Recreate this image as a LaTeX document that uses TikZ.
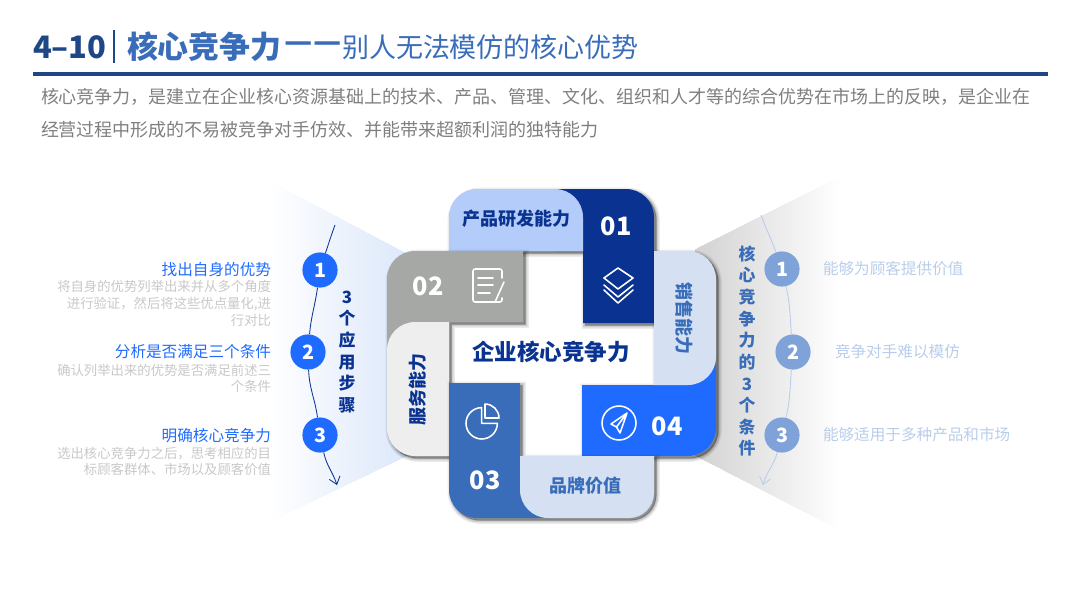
\documentclass[tikz,border=0pt]{standalone}
\usepackage{fontspec}
\setmainfont{Noto Sans CJK SC}
\usetikzlibrary{arrows.meta,positioning,calc}
\definecolor{CoreNavy}{HTML}{0A3391}
\definecolor{CoreHead}{HTML}{1F4785}
\definecolor{CoreBlue}{HTML}{3A6DB9}
\definecolor{CoreBright}{HTML}{1F6BFF}
\definecolor{CoreSky}{HTML}{B4CCFA}
\definecolor{CorePale}{HTML}{D5E1F2}
\definecolor{CoreGray}{HTML}{A6A8A6}
\definecolor{CoreMist}{HTML}{EEEEEE}
\definecolor{CoreSoft}{HTML}{7FA3D8}
\definecolor{CoreFaint}{HTML}{B9CDEB}
\definecolor{FanBlue}{HTML}{DBE7FA}
\definecolor{FanGray}{HTML}{D2D2D2}
\definecolor{TextGray}{HTML}{7F7F7F}
\definecolor{NoteGray}{HTML}{C8C8C8}
\tikzset{
  txt/.style={inner sep=0pt, outer sep=0pt},
  blockcast/.style={
    preaction={fill=black,draw=black,opacity=.08,line width=5pt,transform canvas={xshift=1.6pt,yshift=-1.6pt}},
    preaction={fill=black,draw=black,opacity=.12,line width=3pt,transform canvas={xshift=1.6pt,yshift=-1.6pt}},
    preaction={fill=black,draw=black,opacity=.16,line width=1pt,transform canvas={xshift=1.6pt,yshift=-1.6pt}}},
  blocknum/.style={txt, text=white, font=\fontsize{18}{20}\selectfont\bfseries},
  blockname/.style={txt, font=\fontsize{12.8}{15}\selectfont\bfseries},
  stepdot/.style={circle, minimum size=25pt, inner sep=0pt, text=white, font=\fontsize{14}{16}\selectfont\bfseries},
  steptitle/.style={txt, anchor=east, text=CoreBright, font=\fontsize{11.1}{13}\selectfont},
  stepnote/.style={txt, anchor=east, align=right, text=NoteGray, font=\fontsize{9.5}{11.9}\selectfont},
  condnote/.style={txt, anchor=west, text=CoreFaint, font=\fontsize{11.1}{13}\selectfont},
  sidehead/.style={txt, align=center, font=\fontsize{12}{15.4}\selectfont\bfseries},
  iconline/.style={draw=white, line width=1.1pt, line join=round, line cap=round},
}
\begin{document}
\begin{tikzpicture}[x=0.025cm,y=-0.025cm]
    \useasboundingbox (0,0) rectangle (1080,608);
    % header
    \node[txt,anchor=west,text=CoreHead,font=\fontsize{22}{24}\selectfont\bfseries] (num) at (33,47) {4–10};
    \draw[CoreHead,line width=2pt] (114,30) -- (114,63);
    \node[txt,anchor=west,text=CoreBlue,font=\fontsize{22}{24}\selectfont\bfseries] (title) at (127,47) {核心竞争力};
    \node[txt,anchor=west,text=CoreBlue,font=\fontsize{22}{24}\selectfont\bfseries] (dashes) at (284,47) {—\hspace{1pt}—};
    \node[txt,anchor=west,text=CoreBlue,font=\fontsize{19.2}{21}\selectfont] (subtitle) at (342,47) {别人无法模仿的核心优势};
    \draw[CoreHead,line width=2.5pt] (33,74) -- (1048,74);
    \node[txt,anchor=west,text=TextGray,font=\fontsize{12.8}{15}\selectfont] (introa) at (41,97) {核心竞争力，是建立在企业核心资源基础上的技术、产品、管理、文化、组织和人才等的综合优势在市场上的反映，是企业在};
    \node[txt,anchor=west,text=TextGray,font=\fontsize{12.8}{15}\selectfont] (introb) at (41,130) {经营过程中形成的不易被竞争对手仿效、并能带来超额利润的独特能力};
    % fans
    \foreach \k in {0,...,72}{
      \pgfmathsetmacro{\fx}{267+2*\k}
      \pgfmathsetmacro{\ftop}{180+(\fx-267)*77/145}
      \pgfmathsetmacro{\fbot}{523-(\fx-267)*70/145}
      \pgfmathsetmacro{\fmix}{100*\k/72}
      \fill[FanBlue!\fmix!white] (\fx,\ftop) -- (412,257) -- (412,453) -- (\fx,\fbot) -- cycle;
    }
    \foreach \k in {0,...,72}{
      \pgfmathsetmacro{\fx}{840-2*\k}
      \pgfmathsetmacro{\ftop}{177+(840-\fx)*73/145}
      \pgfmathsetmacro{\fbot}{530-(840-\fx)*75/145}
      \pgfmathsetmacro{\fmix}{100*\k/72}
      \fill[FanGray!\fmix!white] (\fx,\ftop) -- (695,250) -- (695,455) -- (\fx,\fbot) -- cycle;
    }
    % blocks
    \path[blockcast,rounded corners=20pt] (583,251) [sharp corners] -- (449,251) [rounded corners=20pt] -- (449,189) -- (654,189) [sharp corners] -- (654,323) -- (583,323) -- cycle;
    \fill[CoreNavy,rounded corners=20pt] (555,189) -- (654,189) [sharp corners] -- (654,323) -- (583,323) -- (583,251) -- (555,251) -- cycle;
    \fill[CoreSky,sharp corners] (449,251) [rounded corners=20pt] -- (449,189) -- (583,189) [sharp corners] -- (583,251) -- cycle;
    \path[blockcast,sharp corners] (654,251) [rounded corners=20pt] -- (716,251) -- (716,456) [sharp corners] -- (582,456) -- (582,385) -- (654,385) -- cycle;
    \fill[CoreBright,rounded corners=20pt] (654,340) -- (716,340) -- (716,456) [sharp corners] -- (582,456) -- (582,385) -- (654,385) -- cycle;
    \fill[CorePale,rounded corners=20pt] (654,251) -- (716,251) -- (716,385) [sharp corners] -- (654,385) -- cycle;
    \path[blockcast,sharp corners] (523,251) -- (523,322) -- (449,322) -- (449,456) [rounded corners=20pt] -- (387,456) -- (387,251) [sharp corners] -- cycle;
    \fill[CoreGray,sharp corners] (523,251) -- (523,322) -- (449,322) -- (449,350) -- (387,350) [rounded corners=20pt] -- (387,251) [sharp corners] -- cycle;
    \fill[CoreMist,sharp corners] (449,322) -- (449,456) [rounded corners=20pt] -- (387,456) -- (387,322) [sharp corners] -- cycle;
    \path[blockcast,sharp corners] (449,383) -- (520,383) -- (520,456) -- (654,456) [rounded corners=18pt] -- (654,518) [rounded corners=20pt] -- (449,518) [sharp corners] -- cycle;
    \fill[CoreBlue,sharp corners] (449,383) -- (520,383) -- (520,470) -- (560,518) [rounded corners=20pt] -- (449,518) [sharp corners] -- cycle;
    \fill[CorePale,sharp corners] (520,456) -- (654,456) [rounded corners=18pt] -- (654,518) [rounded corners=20pt] -- (520,518) [sharp corners] -- cycle;
    % block texts
    \node[blockname,text=CoreNavy] (prod) at (516,219) {产品研发能力};
    \node[blockname,text=CoreBlue,rotate=-90] (sale) at (684,318) {销售能力};
    \node[blockname,text=CoreBlue] (brand) at (585,486) {品牌价值};
    \node[blockname,text=CoreNavy,rotate=90] (serv) at (418,389) {服务能力};
    \node[blocknum] (n1) at (616,226) {01};
    \node[blocknum] (n2) at (428,286) {02};
    \node[blocknum] (n3) at (485,480) {03};
    \node[blocknum] (n4) at (667,426) {04};
    \node[txt,text=CoreNavy,font=\fontsize{16}{18}\selectfont\bfseries] (core) at (551,352) {企业核心竞争力};
    % icons
    \draw[iconline] (618,268) -- (633,278) -- (618,289) -- (604,278) -- cycle;
    \draw[iconline] (604,285) -- (618,297) -- (633,285);
    \draw[iconline] (604,290) -- (618,303) -- (633,290);
    \draw[iconline,rounded corners=1.5pt] (502,278) |- (473,269) |- (502,302) -- (502,298);
    \draw[iconline] (478,278) -- (493,278) (478,285) -- (493,285) (478,293) -- (490,293) (504,282) -- (495,302);
    \draw[iconline] (481.7,407.6) arc[start angle=270,end angle=0,radius=15.7] -- (481.7,423.3) -- cycle;
    \draw[iconline] (485,418) -- (485,404) arc[start angle=-90,end angle=0,radius=14] -- cycle;
    \draw[iconline] (619,423) circle[radius=17];
    \draw[iconline] (627,413) -- (611,424) -- (616.5,427) -- (620,433) -- cycle (627,413) -- (616.5,427);
    % left steps
    \node[stepdot,fill=CoreBright] (l1) at (320,270) {1};
    \node[stepdot,fill=CoreBright] (l2) at (308,352) {2};
    \node[stepdot,fill=CoreBright] (l3) at (320,435) {3};
    \coordinate (ltop) at (335,225);
    \coordinate (lend) at (337,485);
    \draw[CoreNavy,line width=0.6pt] (ltop) to[out=250,in=72] (l1);
    \draw[CoreNavy,line width=0.6pt] (l1) to[out=262,in=85] (l2);
    \draw[CoreNavy,line width=0.6pt] (l2) to[out=272,in=98] (l3);
    \draw[CoreNavy,line width=0.6pt,-{Straight Barb[length=5pt,width=8pt]}] (l3) to[out=282,in=108] (lend);
    \node[sidehead,text=CoreNavy] (leftname) at (347,352) {3\\个\\应\\用\\步\\骤};
    \node[steptitle] (la) at (271,270) {找出自身的优势};
    \node[stepnote] (lan) at (271,303.5) {将自身的优势列举出来并从多个角度\\进行验证，然后将这些优点量化,进\\行对比};
    \node[steptitle] (lb) at (271,352) {分析是否满足三个条件};
    \node[stepnote] (lbn) at (271,378.5) {确认列举出来的优势是否满足前述三\\个条件};
    \node[steptitle] (lc) at (271,436) {明确核心竞争力};
    \node[stepnote] (lcn) at (271,461.5) {选出核心竞争力之后，思考相应的目\\标顾客群体、市场以及顾客价值};
    % right conditions
    \node[stepdot,fill=CoreSoft] (r1) at (782,269) {1};
    \node[stepdot,fill=CoreSoft] (r2) at (793,352) {2};
    \node[stepdot,fill=CoreSoft] (r3) at (782,435) {3};
    \coordinate (rtop) at (761,215);
    \coordinate (rend) at (763,485);
    \draw[CoreFaint,line width=0.6pt] (rtop) to[out=-70,in=110] (r1);
    \draw[CoreFaint,line width=0.6pt] (r1) to[out=283,in=95] (r2);
    \draw[CoreFaint,line width=0.6pt] (r2) to[out=265,in=77] (r3);
    \draw[CoreFaint,line width=0.6pt,-{Straight Barb[length=5pt,width=8pt]}] (r3) to[out=255,in=75] (rend);
    \node[sidehead,text=CoreBlue] (rightname) at (747,351) {核\\心\\竞\\争\\力\\的\\3\\个\\条\\件};
    \node[condnote] (ra) at (823,269) {能够为顾客提供价值};
    \node[condnote] (rb) at (835,352) {竞争对手难以模仿};
    \node[condnote] (rc) at (823,435) {能够适用于多种产品和市场};
\end{tikzpicture}
\end{document}
